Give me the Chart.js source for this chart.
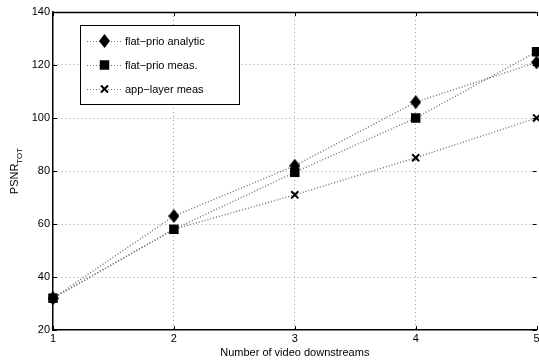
<!DOCTYPE html>
<html lang="en">
<head>
<meta charset="UTF-8">
<title>PSNR vs downstreams</title>
<script src="https://cdn.jsdelivr.net/npm/chart.js@4.4.0/dist/chart.umd.min.js"></script>
<style>
  html, body { margin: 0; padding: 0; background: #fff; overflow: hidden; }
  #wrap { width: 545px; height: 362px; }
</style>
</head>
<body>
<div id="wrap"><canvas id="chart" width="545" height="362"></canvas></div>
<script>
// data
const streams = [1, 2, 3, 4, 5];
const analytic = [32, 63, 82, 106, 121];
const flatMeas = [32, 58, 79.5, 100, 125];
const appMeas = [32, 58, 71, 85, 100];
const seriesNames = ['flat\u2212prio analytic', 'flat\u2212prio meas.', 'app\u2212layer meas'];

const FONT = '"Liberation Sans", Arial, sans-serif';

// taller-than-wide diamond like the matlab marker
function diamond(w, h) {
  const c = document.createElement('canvas');
  c.width = w; c.height = h;
  const g = c.getContext('2d');
  g.fillStyle = '#000';
  g.beginPath();
  g.moveTo(w / 2, 0); g.lineTo(w, h / 2); g.lineTo(w / 2, h); g.lineTo(0, h / 2);
  g.closePath(); g.fill();
  return c;
}
const diamondImg = diamond(11, 14);

function toXY(vals) { return streams.map((x, i) => ({ x: x, y: vals[i] })); }

const lineStyle = { borderColor: '#707070', borderWidth: 1.4, borderDash: [1, 2], showLine: true, fill: false, tension: 0 };

const extras = {
  id: 'extras',
  afterDraw(chart) {
    const ctx = chart.ctx, a = chart.chartArea;
    const xs = chart.scales.x, ys = chart.scales.y;
    ctx.save();
    // top border
    ctx.strokeStyle = '#000'; ctx.lineWidth = 1.5;
    ctx.beginPath(); ctx.moveTo(a.left, a.top + 0.5); ctx.lineTo(a.right, a.top + 0.5); ctx.stroke();
    // inward tick marks
    ctx.lineWidth = 1;
    xs.ticks.forEach(t => {
      const px = Math.round(xs.getPixelForValue(t.value)) + 0.5;
      ctx.beginPath();
      ctx.moveTo(px, a.bottom); ctx.lineTo(px, a.bottom - 4);
      ctx.moveTo(px, a.top); ctx.lineTo(px, a.top + 4);
      ctx.stroke();
    });
    ys.ticks.forEach(t => {
      const py = Math.round(ys.getPixelForValue(t.value)) + 0.5;
      ctx.beginPath();
      ctx.moveTo(a.left, py); ctx.lineTo(a.left + 4, py);
      ctx.moveTo(a.right, py); ctx.lineTo(a.right - 4, py);
      ctx.stroke();
    });
    // y title with subscript
    ctx.fillStyle = '#000';
    ctx.translate(18, 171);
    ctx.rotate(-Math.PI / 2);
    ctx.font = '11px ' + FONT;
    ctx.textBaseline = 'alphabetic';
    const w1 = ctx.measureText('PSNR').width;
    ctx.font = '8px ' + FONT;
    const w2 = ctx.measureText('TOT').width;
    const x0 = -(w1 + w2) / 2;
    ctx.font = '11px ' + FONT;
    ctx.fillText('PSNR', x0, 0);
    ctx.font = '8px ' + FONT;
    ctx.fillText('TOT', x0 + w1, 4);
    ctx.restore();

    // legend box
    ctx.save();
    const lx = 80, ly = 25, lw = 159, lh = 79;
    ctx.fillStyle = '#fff';
    ctx.fillRect(lx, ly, lw, lh);
    ctx.strokeStyle = '#000'; ctx.lineWidth = 1;
    ctx.strokeRect(lx + 0.5, ly + 0.5, lw, lh);
    chart.data.datasets.forEach((ds, i) => {
      const yy = 41 + i * 24;
      ctx.strokeStyle = ds.borderColor; ctx.lineWidth = 1.2;
      ctx.setLineDash([1, 2]);
      ctx.beginPath(); ctx.moveTo(87, yy + 0.5); ctx.lineTo(122, yy + 0.5); ctx.stroke();
      ctx.setLineDash([]);
      ctx.fillStyle = '#000'; ctx.strokeStyle = '#000'; ctx.lineWidth = ds.pointBorderWidth || 1;
      Chart.helpers.drawPoint(ctx, { pointStyle: ds.pointStyle, radius: ds.pointRadius, rotation: 0, borderWidth: ds.pointBorderWidth }, 104.5, yy);
      ctx.fillStyle = '#000';
      ctx.font = '11px ' + FONT;
      ctx.textBaseline = 'middle';
      ctx.fillText(ds.label, 125, yy + 1);
    });
    ctx.restore();
  }
};

new Chart(document.getElementById('chart'), {
  type: 'scatter',
  data: {
    datasets: [
      Object.assign({ label: seriesNames[0], data: toXY(analytic), pointStyle: diamondImg, pointRadius: 7, pointBackgroundColor: '#000', pointBorderColor: '#000' }, lineStyle),
      Object.assign({ label: seriesNames[1], data: toXY(flatMeas), pointStyle: 'rect', pointRadius: 6.7, pointBackgroundColor: '#000', pointBorderColor: '#000', pointBorderWidth: 0 }, lineStyle),
      Object.assign({ label: seriesNames[2], data: toXY(appMeas), pointStyle: 'crossRot', pointRadius: 5, pointBackgroundColor: '#000', pointBorderColor: '#000', pointBorderWidth: 2 }, lineStyle)
    ]
  },
  options: {
    responsive: false,
    animation: false,
    devicePixelRatio: 1,
    clip: false,
    layout: { padding: { left: 0, top: 12, right: 0, bottom: 0 } },
    plugins: { legend: { display: false }, tooltip: { enabled: false } },
    scales: {
      x: {
        type: 'linear', min: 1, max: 5,
        afterFit: s => { s.height = 32; },
        ticks: { stepSize: 1, color: '#000', font: { family: FONT, size: 11 }, padding: 2 },
        grid: {
          drawTicks: false,
          color: c => (c.tick.value === 1 || c.tick.value === 5) ? 'rgba(0,0,0,0)' : '#a0a0a0'
        },
        border: { display: true, color: '#000', width: 1.5, dash: [1, 3] },
        title: { display: true, text: 'Number of video downstreams', color: '#000', font: { family: FONT, size: 11 }, padding: { top: 0, bottom: 2 } }
      },
      y: {
        min: 20, max: 140,
        afterFit: s => { s.width = 53; },
        ticks: { stepSize: 20, color: '#000', font: { family: FONT, size: 11 }, padding: 3 },
        grid: {
          drawTicks: false,
          color: c => (c.tick.value === 20 || c.tick.value === 140) ? 'rgba(0,0,0,0)' : '#a0a0a0'
        },
        border: { display: true, color: '#000', width: 1.5, dash: [1, 3] }
      }
    }
  },
  plugins: [extras]
});
</script>
</body>
</html>
